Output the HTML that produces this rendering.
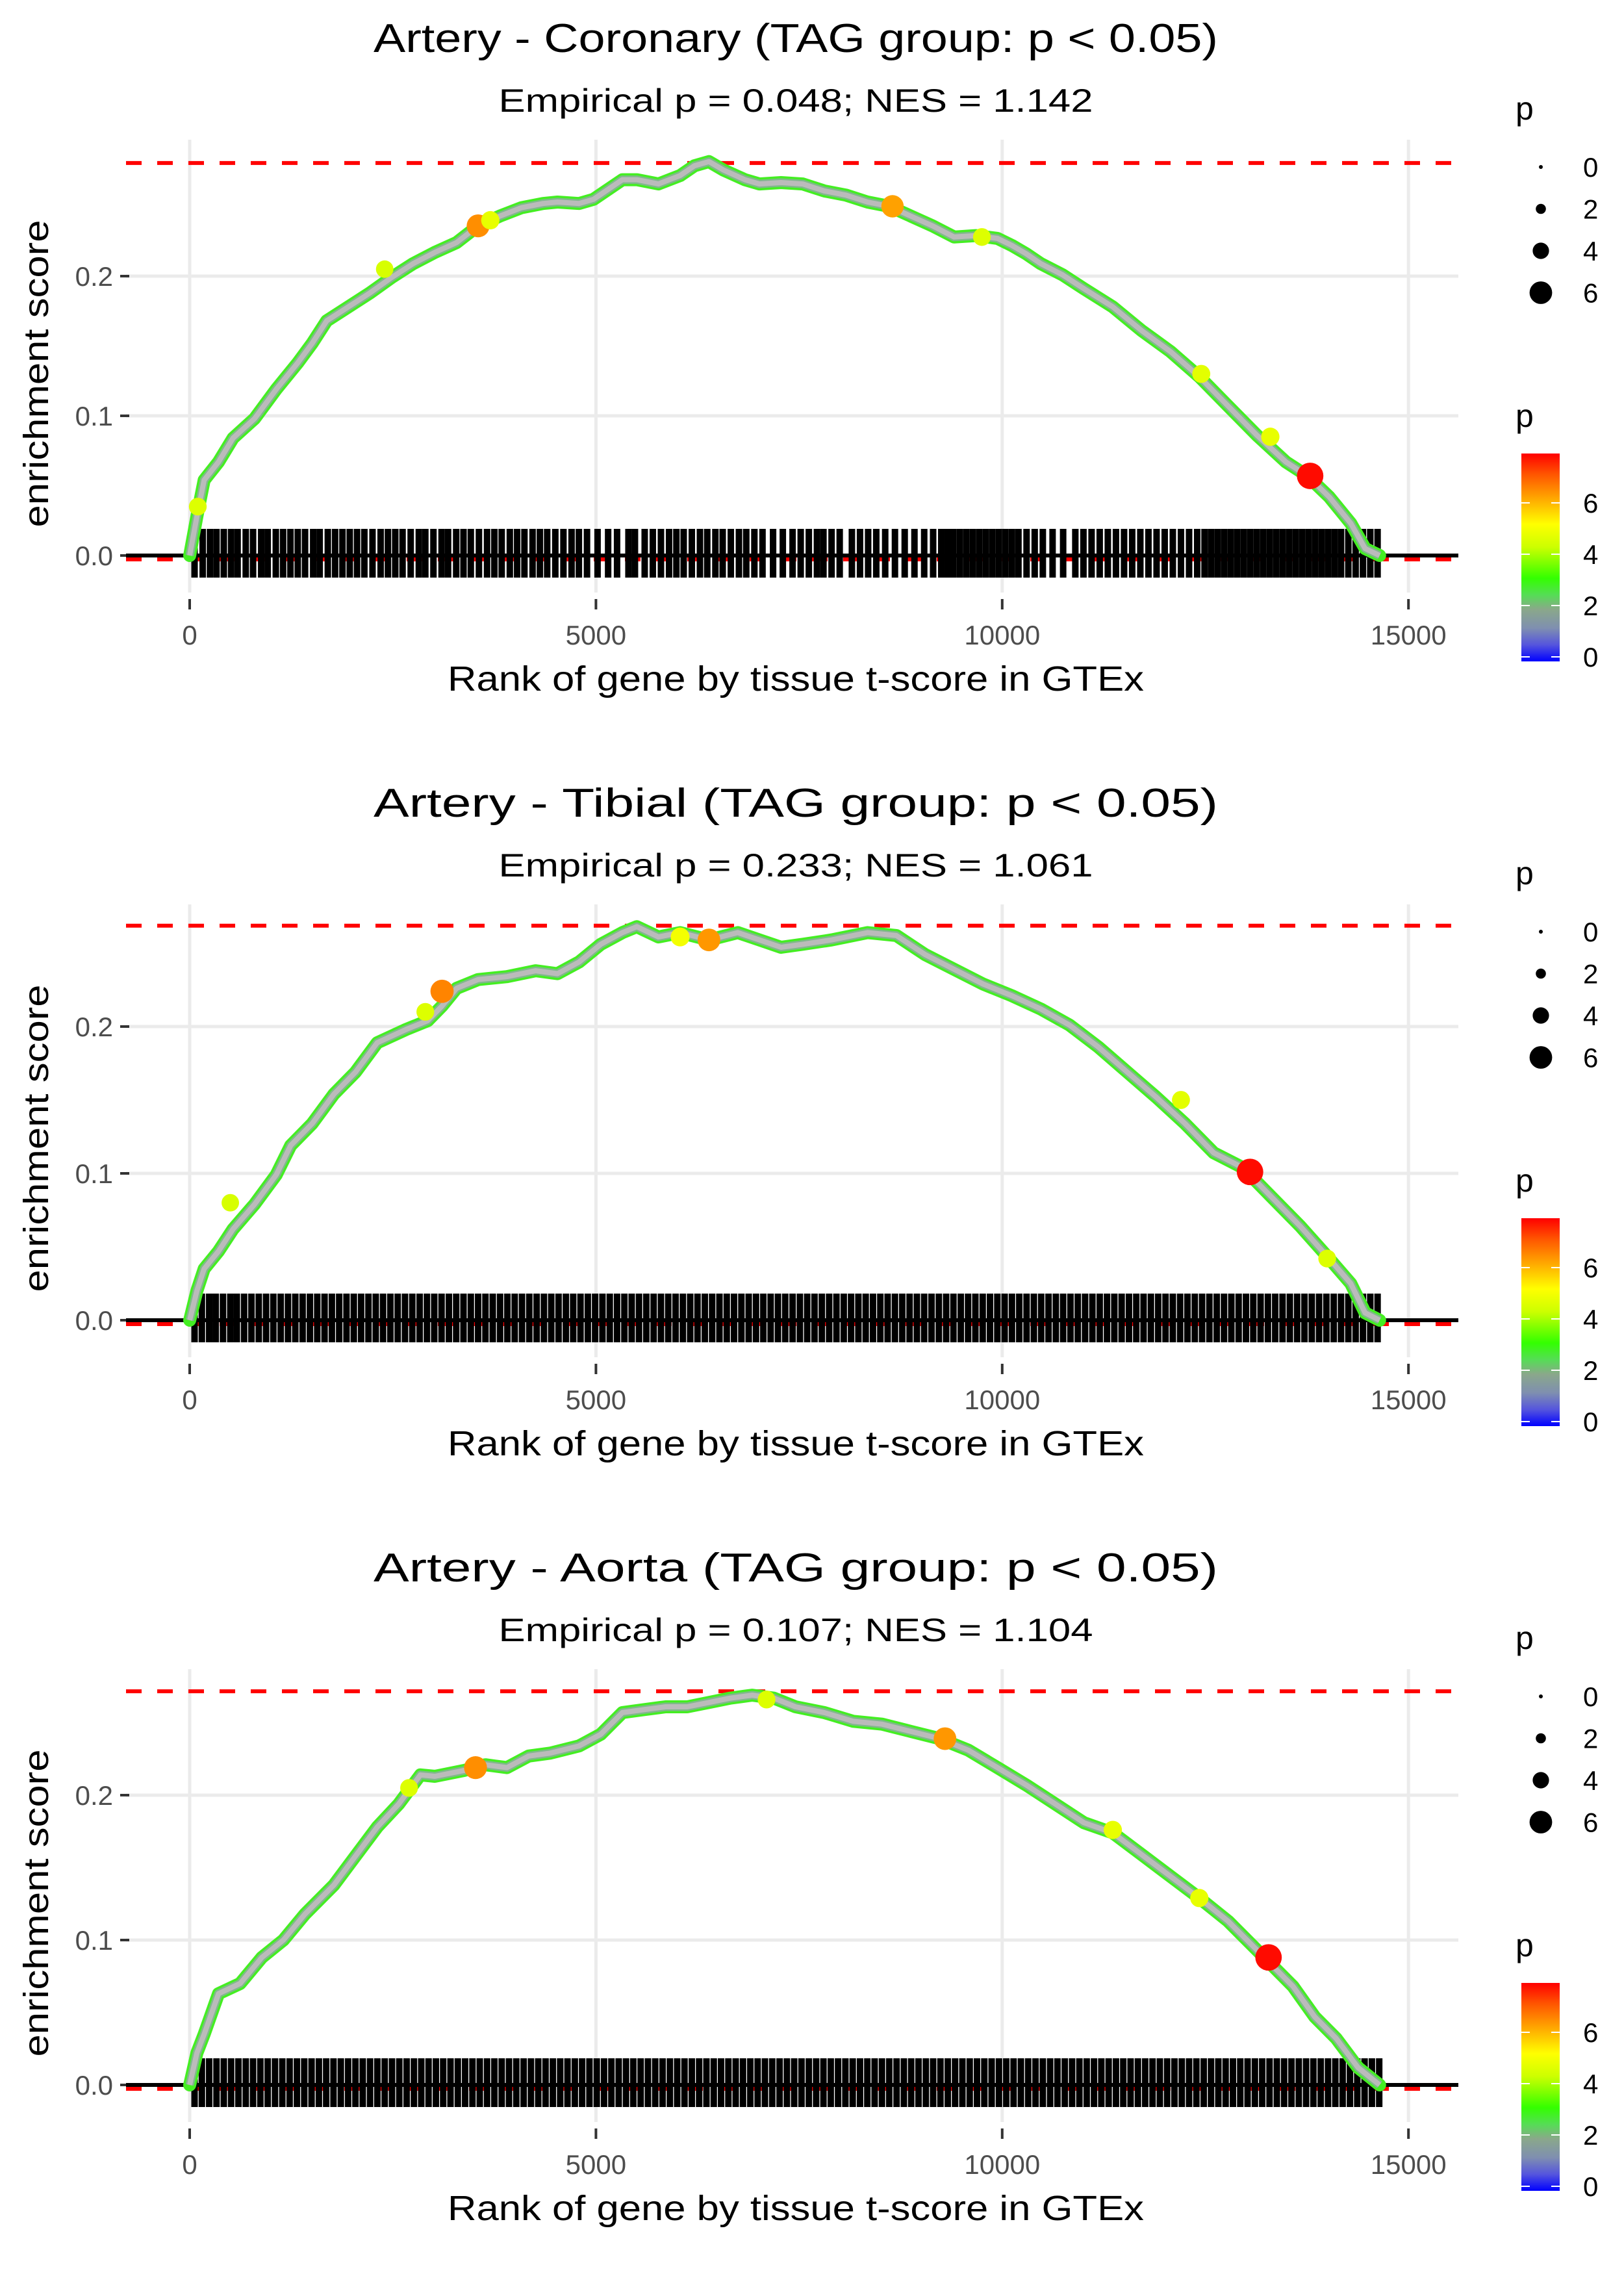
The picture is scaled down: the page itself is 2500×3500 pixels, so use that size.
<!DOCTYPE html>
<html><head><meta charset="utf-8">
<style>
html,body{margin:0;padding:0;background:#fff;}
svg{display:block;font-family:"Liberation Sans",sans-serif;}
</style></head>
<body>
<svg id="chart" width="2500" height="3500" viewBox="0 0 2500 3500" xmlns="http://www.w3.org/2000/svg">
<defs>
<linearGradient id="pgrad" x1="0" y1="1" x2="0" y2="0">
<stop offset="0" stop-color="#0000ff"/>
<stop offset="0.08" stop-color="#5555dd"/>
<stop offset="0.16" stop-color="#7f8fb0"/>
<stop offset="0.25" stop-color="#8aa88a"/>
<stop offset="0.32" stop-color="#55dd55"/>
<stop offset="0.4" stop-color="#33ff00"/>
<stop offset="0.55" stop-color="#ccff00"/>
<stop offset="0.66" stop-color="#ffff00"/>
<stop offset="0.78" stop-color="#ffaa00"/>
<stop offset="0.9" stop-color="#ff5500"/>
<stop offset="1" stop-color="#ff0000"/>
</linearGradient>
</defs>
</svg>
<script>
// ---- data ----
const panelTitles = ["Artery - Coronary (TAG group: p < 0.05)","Artery - Tibial (TAG group: p < 0.05)","Artery - Aorta (TAG group: p < 0.05)"];
const panelSubtitles = ["Empirical p = 0.048; NES = 1.142","Empirical p = 0.233; NES = 1.061","Empirical p = 0.107; NES = 1.104"];
const maxES = [0.281, 0.2687, 0.2717];
const xTicks = [0,5000,10000,15000];
const yTicks = [0.0,0.1,0.2];
const yTickLabels = ["0.0","0.1","0.2"];
const sizeLegendValues = [0,2,4,6];
const colorLegendValues = [0,2,4,6];

const curveRanks1 = [0,89,178,355,533,799,1065,1331,1509,1686,1953,2219,2485,2751,3018,3284,3550,3817,4083,4349,4527,4793,4970,5148,5325,5503,5769,6036,6213,6391,6568,6834,7012,7278,7544,7811,8077,8343,8609,8876,9142,9408,9675,9941,10118,10296,10473,10740,11006,11361,11716,12071,12426,12781,13136,13491,13757,14024,14290,14467,14645];
const curveES1 = [0,.028,.054,.067,.084,.098,.119,.138,.152,.168,.178,.188,.199,.209,.217,.224,.236,.243,.249,.252,.253,.252,.255,.262,.269,.269,.266,.272,.279,.282,.276,.269,.266,.267,.266,.261,.258,.253,.250,.243,.236,.228,.229,.227,.222,.216,.209,.201,.191,.178,.161,.146,.128,.107,.086,.067,.057,.042,.023,.005,0];
const curveRanks2 = [0,89,178,355,533,799,1065,1243,1509,1775,2041,2308,2663,2929,3106,3284,3550,3905,4260,4527,4793,5059,5325,5503,5769,6036,6391,6746,7012,7278,7544,7899,8343,8698,9053,9408,9763,10118,10473,10828,11184,11539,11894,12249,12604,12959,13314,13669,14024,14290,14467,14645];
const curveES2 = [0,.020,.035,.047,.062,.079,.099,.119,.134,.154,.169,.189,.198,.204,.214,.226,.232,.234,.238,.236,.244,.256,.264,.268,.261,.264,.259,.264,.259,.254,.256,.259,.264,.262,.249,.239,.229,.221,.212,.201,.186,.169,.152,.134,.114,.104,.084,.064,.042,.025,.005,0];
const curveRanks3 = [0,89,178,355,621,888,1154,1420,1775,2041,2308,2574,2840,3018,3373,3639,3905,4172,4438,4793,5059,5325,5591,5858,6124,6391,6657,6923,7189,7456,7811,8166,8521,8876,9231,9586,9941,10296,10651,11006,11361,11716,12071,12426,12781,13136,13314,13580,13846,14112,14379,14645];
const curveES3 = [0,.022,.035,.063,.070,.088,.100,.118,.138,.158,.178,.194,.214,.213,.217,.221,.219,.227,.229,.234,.242,.257,.259,.261,.261,.264,.267,.269,.267,.261,.257,.251,.249,.244,.239,.231,.219,.207,.194,.181,.174,.159,.144,.129,.113,.093,.083,.068,.047,.032,.012,0];

const dotRanks1 = [3550,8650,13790,3700,9750,12450,13300,100,2400];
const dotES1 = [.236,.250,.057,.240,.228,.130,.085,.035,.205];
const dotP1 = [6.5,6.3,7.8,4.8,4.6,4.7,4.8,4.6,4.5];
const dotRanks2 = [3106,6391,13050,6036,12200,2900,14000,500];
const dotES2 = [.224,.259,.101,.261,.150,.210,.042,.080];
const dotP2 = [6.6,6.4,7.8,5.0,4.7,4.6,4.6,4.5];
const dotRanks3 = [3518,9296,13278,11361,12426,2700,7100];
const dotES3 = [.219,.239,.088,.176,.129,.205,.266];
const dotP3 = [6.5,6.4,7.8,4.8,4.8,4.6,4.6];

const geneRanks1 = [60,160,250,330,420,510,590,690,780,880,960,1060,1150,1240,1330,1420,1520,1600,1700,1790,1880,1970,2060,2150,2250,2350,2440,2530,2620,2720,2820,2900,3000,3100,3180,3280,3370,3460,3560,3660,3750,3840,3940,4030,4120,4220,4310,4400,4500,4600,4700,4790,4890,5020,5150,5260,5400,5480,5600,5700,5800,5900,5990,6080,6180,6280,6370,6470,6560,6660,6760,6850,6950,7050,7180,7300,7420,7520,7620,7720,7800,7900,8000,8150,8250,8350,8450,8560,8680,8800,8920,9040,9150,9250,9330,9400,9480,9560,9640,9720,9800,9880,9960,10040,10120,10200,10300,10400,10500,10620,10750,10900,11000,11100,11200,11300,11400,11500,11600,11700,11800,11900,12000,12100,12200,12300,12400,12490,12570,12650,12730,12810,12890,12970,13050,13130,13210,13290,13370,13450,13530,13610,13690,13770,13850,13930,14010,14090,14170,14260,14350,14440,14530,14620];
const geneRanks2 = [60,150,240,320,410,500,580,670,760,850,940,1030,1120,1210,1300,1390,1480,1570,1660,1750,1840,1930,2020,2110,2200,2290,2380,2470,2560,2650,2740,2830,2920,3010,3100,3190,3280,3370,3460,3550,3640,3730,3820,3910,4000,4090,4180,4270,4360,4450,4540,4630,4720,4810,4900,4990,5080,5170,5260,5350,5440,5530,5620,5710,5800,5890,5980,6070,6160,6250,6340,6430,6520,6610,6700,6790,6880,6970,7060,7150,7240,7330,7420,7510,7600,7690,7780,7870,7960,8050,8140,8230,8320,8410,8500,8590,8680,8770,8860,8950,9040,9130,9220,9310,9400,9490,9580,9670,9760,9850,9940,10030,10120,10210,10300,10390,10480,10570,10660,10750,10840,10930,11020,11110,11200,11290,11380,11470,11560,11650,11740,11830,11920,12010,12100,12190,12280,12370,12460,12550,12640,12730,12820,12910,13000,13090,13180,13270,13360,13450,13540,13630,13720,13810,13900,13990,14080,14170,14260,14350,14440,14530,14620];
const geneRanks3 = [60,150,240,330,420,510,600,690,780,870,960,1050,1140,1230,1320,1410,1500,1590,1680,1770,1860,1950,2040,2130,2220,2310,2400,2490,2580,2670,2760,2850,2940,3030,3120,3210,3300,3390,3480,3570,3660,3750,3840,3930,4020,4110,4200,4290,4380,4470,4560,4650,4740,4830,4920,5010,5100,5190,5280,5370,5460,5550,5640,5730,5820,5910,6000,6090,6180,6270,6360,6450,6540,6630,6720,6810,6900,6990,7080,7170,7260,7350,7440,7530,7620,7710,7800,7890,7980,8070,8160,8250,8340,8430,8520,8610,8700,8790,8880,8970,9060,9150,9240,9330,9420,9510,9600,9690,9780,9870,9960,10050,10140,10230,10320,10410,10500,10590,10680,10770,10860,10950,11040,11130,11220,11310,11400,11490,11580,11670,11760,11850,11940,12030,12120,12210,12300,12390,12480,12570,12660,12750,12840,12930,13020,13110,13200,13290,13380,13470,13560,13650,13740,13830,13920,14010,14100,14190,14280,14370,14460,14550,14640];

const curveRanks=[curveRanks1,curveRanks2,curveRanks3];
const curveES=[curveES1,curveES2,curveES3];
const dotRanks=[dotRanks1,dotRanks2,dotRanks3];
const dotES=[dotES1,dotES2,dotES3];
const dotP=[dotP1,dotP2,dotP3];
const geneRanks=[geneRanks1,geneRanks2,geneRanks3];

// ---- layout ----
const NS="http://www.w3.org/2000/svg";
const svg=document.getElementById('chart');
const PANEL_H=1177, Y0=855, PX_PER_TENTH=[215,226,223];
function xScale(r){return 292+r*0.12508;}
function mk(tag,attrs,parent){const e=document.createElementNS(NS,tag);for(const k in attrs)e.setAttribute(k,attrs[k]);(parent||svg).appendChild(e);return e;}
function pColor(p){
  const stops=[[0,[0,0,255]],[0.6,[85,85,221]],[1.3,[127,143,176]],[2,[138,168,138]],[2.5,[85,221,85]],[3.2,[51,255,0]],[4.3,[204,255,0]],[5.2,[255,255,0]],[6.2,[255,170,0]],[7.1,[255,85,0]],[7.9,[255,0,0]]];
  for(let i=1;i<stops.length;i++){if(p<=stops[i][0]){const a=stops[i-1],b=stops[i],t=(p-a[0])/(b[0]-a[0]);return 'rgb('+a[1].map((c,j)=>Math.round(c+(b[1][j]-c)*t)).join(',')+')';}}
  return 'rgb(255,0,0)';
}

for(let k=0;k<3;k++){
  const oy=k*PANEL_H;
  const yS=v=>oy+Y0-v*PX_PER_TENTH[k]*10;
  const g=mk('g',{});
  
  

  const t=mk('text',{x:1225,y:oy+80,'text-anchor':'middle','font-size':62,fill:'#000',textLength:1300,lengthAdjust:'spacingAndGlyphs'},g);
  t.textContent=panelTitles[k];
  
  
  const st=mk('text',{x:1225,y:oy+172,'text-anchor':'middle','font-size':50,fill:'#000',textLength:915,lengthAdjust:'spacingAndGlyphs'},g);
  st.textContent=panelSubtitles[k];
  
  

  // grid
  yTicks.forEach((v,i)=>{
    const l=mk('line',{x1:194,x2:2245,y1:yS(v),y2:yS(v),stroke:'#ebebeb','stroke-width':5},g);
    
    
    const tk=mk('line',{x1:185,x2:199,y1:yS(v),y2:yS(v),stroke:'#333','stroke-width':4},g);
    
    
    const lb=mk('text',{x:174,y:yS(v)+15,'text-anchor':'end','font-size':42,fill:'#4d4d4d'},g);
    lb.textContent=yTickLabels[i];
    
    
  });
  xTicks.forEach(v=>{
    const l=mk('line',{x1:xScale(v),x2:xScale(v),y1:oy+215,y2:oy+912,stroke:'#ebebeb','stroke-width':5},g);
    
    
    const tk=mk('line',{x1:xScale(v),x2:xScale(v),y1:oy+922,y2:oy+938,stroke:'#333','stroke-width':4},g);
    
    
    const lb=mk('text',{x:xScale(v),y:oy+992,'text-anchor':'middle','font-size':42,fill:'#4d4d4d'},g);
    lb.textContent=String(v);
    
    
  });

  const dm=mk('line',{x1:194,x2:2245,y1:yS(maxES[k]),y2:yS(maxES[k]),stroke:'#ff0000','stroke-width':6,'stroke-dasharray':'24,24'},g);
  
  
  const dz=mk('line',{x1:194,x2:2245,y1:yS(0)+6,y2:yS(0)+6,stroke:'#ff0000','stroke-width':6,'stroke-dasharray':'24,24'},g);
  
  

  const gt=mk('g',{},g);
  
  
  geneRanks[k].forEach(r=>{
    const l=mk('line',{x1:xScale(r),x2:xScale(r),y1:oy+814,y2:oy+889,stroke:'#000','stroke-width':10},gt);
    
    
  });
  const zl=mk('line',{x1:194,x2:2245,y1:yS(0),y2:yS(0),stroke:'#000','stroke-width':6},g);
  
  

  const pts=curveRanks[k].map((r,i)=>xScale(r).toFixed(1)+','+yS(curveES[k][i]).toFixed(1)).join(' ');
  const c1=mk('polyline',{points:pts,fill:'none',stroke:'#44ee22','stroke-width':20,'stroke-linejoin':'round','stroke-linecap':'round'},g);
  
  
  const c2=mk('polyline',{points:pts,fill:'none',stroke:'#7fb88a','stroke-width':13,'stroke-linejoin':'round'},g);
  
  
  const c3=mk('polyline',{points:pts,fill:'none',stroke:'#bbbbbb','stroke-width':8,'stroke-linejoin':'round'},g);
  
  

  dotRanks[k].forEach((r,i)=>{
    const p=dotP[k][i];
    const d=mk('circle',{cx:xScale(r),cy:yS(dotES[k][i]),r:4+p*2.1,fill:pColor(p)},g);
    
    
  });

  const xt=mk('text',{x:1225,y:oy+1063,'text-anchor':'middle','font-size':54,fill:'#000',textLength:1072,lengthAdjust:'spacingAndGlyphs'},g);
  xt.textContent='Rank of gene by tissue t-score in GTEx';
  
  
  const yt=mk('text',{x:0,y:0,'text-anchor':'middle','font-size':54,fill:'#000',textLength:473,lengthAdjust:'spacingAndGlyphs',transform:'translate(74,'+(oy+575)+') rotate(-90)'},g);
  yt.textContent='enrichment score';
  
  

  const sl=mk('g',{},g);
  
  
  const sp=mk('text',{x:2333,y:oy+184,'font-size':50,fill:'#000'},sl);
  sp.textContent='p';
  
  
  sizeLegendValues.forEach((v,i)=>{
    const cy=oy+257+i*64.5;
    const c=mk('circle',{cx:2372,cy:cy,r:3+v*2.4,fill:'#000'},sl);
    
    
    const lb=mk('text',{x:2437,y:cy+15,'font-size':42,fill:'#000'},sl);
    lb.textContent=String(v);
    
    
  });

  const cl=mk('g',{},g);
  
  
  const cp=mk('text',{x:2333,y:oy+657,'font-size':50,fill:'#000'},cl);
  cp.textContent='p';
  
  
  const bar=mk('rect',{x:2342,y:oy+698,width:59,height:320,fill:'url(#pgrad)'},cl);
  
  
  colorLegendValues.forEach(v=>{
    const cy=oy+1011-v*39.5;
    mk('line',{x1:2342,x2:2355,y1:cy,y2:cy,stroke:'#fff','stroke-width':2},cl);
    mk('line',{x1:2388,x2:2401,y1:cy,y2:cy,stroke:'#fff','stroke-width':2},cl);
    const lb=mk('text',{x:2437,y:cy+15,'font-size':42,fill:'#000'},cl);
    lb.textContent=String(v);
    
    
  });
}
</script>
</body></html>
